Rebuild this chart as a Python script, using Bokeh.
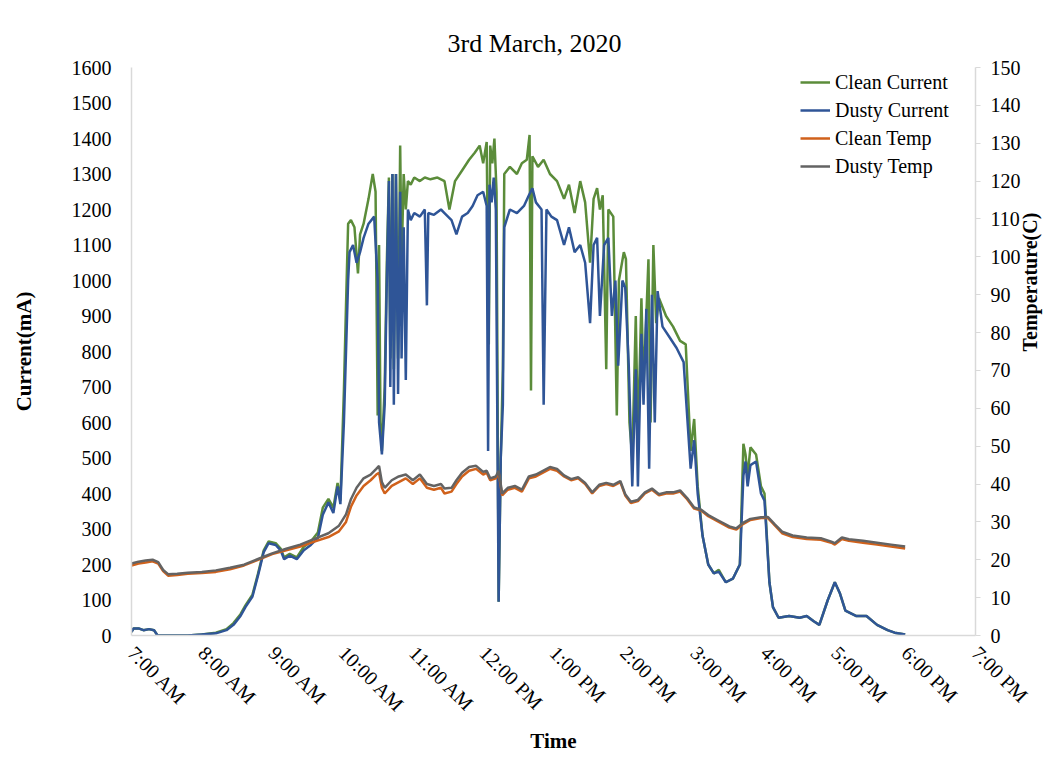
import math
from bokeh.plotting import figure
from bokeh.models import Range1d, LinearAxis, FixedTicker, Legend, LegendItem, Title
from bokeh.embed import file_html
from bokeh.resources import INLINE

# ---------------- data ----------------
title_text = "3rd March, 2020"
x_ticks = [7, 8, 9, 10, 11, 12, 13, 14, 15, 16, 17, 18, 19]
x_tick_labels = ["7:00 AM", "8:00 AM", "9:00 AM", "10:00 AM", "11:00 AM", "12:00 PM",
                 "1:00 PM", "2:00 PM", "3:00 PM", "4:00 PM", "5:00 PM", "6:00 PM", "7:00 PM"]
series_names = ["Clean Current", "Dusty Current", "Clean Temp", "Dusty Temp"]

dusty_current_t = [7.00, 7.03, 7.10, 7.17, 7.25, 7.32, 7.37, 7.80, 8.00, 8.20, 8.35, 8.45, 8.55, 8.62,
                   8.72, 8.80, 8.88, 8.95, 9.05, 9.12, 9.17, 9.25, 9.35, 9.45, 9.55, 9.65, 9.72, 9.80,
                   9.87, 9.93, 9.97, 10.02, 10.05, 10.08, 10.10, 10.15, 10.20, 10.25, 10.30, 10.37,
                   10.45, 10.50, 10.52, 10.56, 10.60, 10.63, 10.66, 10.68, 10.71, 10.73, 10.76, 10.79,
                   10.82, 10.84, 10.87, 10.90, 10.93, 10.97, 11.02, 11.10, 11.17, 11.20, 11.22, 11.30,
                   11.40, 11.45, 11.55, 11.62, 11.70, 11.78, 11.85, 11.92, 12.00, 12.05, 12.07, 12.09,
                   12.12, 12.15, 12.18, 12.22, 12.25, 12.28, 12.30, 12.38, 12.48, 12.58, 12.65, 12.70,
                   12.75, 12.83, 12.86, 12.90, 12.97, 13.05, 13.15, 13.22, 13.30, 13.38, 13.45, 13.52,
                   13.57, 13.62, 13.66, 13.72, 13.78, 13.83, 13.88, 13.92, 13.98, 14.02, 14.07, 14.12,
                   14.17, 14.20, 14.25, 14.28, 14.32, 14.36, 14.40, 14.44, 14.48, 14.55, 14.65, 14.75,
                   14.85, 14.95, 15.00, 15.05, 15.12, 15.20, 15.28, 15.35, 15.45, 15.55, 15.65, 15.70,
                   15.73, 15.76, 15.80, 15.88, 15.95, 16.00, 16.07, 16.12, 16.20, 16.35, 16.50, 16.60,
                   16.70, 16.78, 16.90, 17.00, 17.07, 17.15, 17.30, 17.45, 17.60, 17.75, 17.85, 18.00]
dusty_current = [10, 20, 20, 15, 18, 15, 0, 0, 3, 6, 15, 30, 55, 80,
                 110, 170, 235, 260, 255, 240, 215, 225, 215, 240, 255, 275, 340, 375,
                 345, 420, 370, 600, 800, 1000, 1080, 1100, 1050, 1080, 1120, 1160,
                 1180, 1000, 600, 510, 650, 1000, 1280, 700, 1300, 650, 1300, 680,
                 1250, 780, 1150, 720, 1200, 1170, 1190, 1180, 1200, 930, 1190, 1185,
                 1200, 1190, 1170, 1130, 1180, 1190, 1210, 1240, 1250, 1210, 520, 1270,
                 1220, 1290, 1200, 95, 500, 650, 1150, 1200, 1190, 1210, 1240, 1260,
                 1220, 1200, 650, 1200, 1180, 1170, 1100, 1150, 1080, 1100, 1050, 880,
                 1100, 1120, 900, 1100, 1120, 900, 1000, 760, 1000, 980, 760, 420,
                 750, 420, 850, 650, 920, 470, 960, 600, 970, 870, 840, 810,
                 770, 470, 550, 400, 280, 200, 175, 180, 150, 160, 200, 450,
                 490, 420, 480, 490, 400, 380, 150, 80, 50, 55, 50, 55,
                 40, 30, 100, 150, 120, 70, 55, 55, 30, 15, 8, 3]

clean_current_t = [7.00, 7.03, 7.10, 7.17, 7.25, 7.32, 7.37, 7.80, 8.00, 8.20, 8.35, 8.45, 8.55, 8.62,
                   8.72, 8.80, 8.88, 8.95, 9.05, 9.12, 9.17, 9.25, 9.35, 9.45, 9.55, 9.65, 9.72, 9.80,
                   9.87, 9.93, 9.97, 10.02, 10.05, 10.08, 10.12, 10.17, 10.22, 10.25, 10.30, 10.37,
                   10.43, 10.47, 10.50, 10.52, 10.54, 10.56, 10.60, 10.63, 10.66, 10.68, 10.71, 10.73,
                   10.76, 10.79, 10.82, 10.84, 10.87, 10.90, 10.93, 10.97, 11.02, 11.10, 11.17, 11.25,
                   11.35, 11.45, 11.52, 11.60, 11.70, 11.80, 11.88, 11.95, 12.00, 12.05, 12.08, 12.10,
                   12.13, 12.16, 12.19, 12.22, 12.25, 12.28, 12.30, 12.38, 12.48, 12.55, 12.62, 12.66,
                   12.68, 12.70, 12.78, 12.86, 12.95, 13.05, 13.15, 13.22, 13.30, 13.38, 13.45, 13.52,
                   13.57, 13.62, 13.66, 13.70, 13.75, 13.78, 13.85, 13.90, 13.93, 14.00, 14.03, 14.08,
                   14.12, 14.17, 14.20, 14.25, 14.28, 14.32, 14.35, 14.38, 14.42, 14.46, 14.50, 14.60,
                   14.70, 14.80, 14.88, 14.95, 15.00, 15.05, 15.12, 15.20, 15.28, 15.35, 15.45, 15.55,
                   15.65, 15.70, 15.73, 15.76, 15.80, 15.88, 15.95, 16.00, 16.07, 16.12, 16.20, 16.35,
                   16.50, 16.60, 16.70, 16.78, 16.90, 17.00, 17.07, 17.15, 17.30, 17.45, 17.60, 17.75,
                   17.85, 18.00]
clean_current = [10, 20, 20, 15, 18, 15, 0, 0, 3, 8, 18, 35, 60, 85,
                 115, 175, 240, 265, 260, 245, 220, 230, 220, 250, 265, 290, 360, 385,
                 360, 430, 380, 690, 930, 1160, 1170, 1150, 1020, 1130, 1160, 1230,
                 1300, 1250, 620, 1100, 600, 520, 700, 1050, 1290, 780, 1300, 750,
                 1300, 780, 1380, 1050, 1300, 1200, 1280, 1270, 1290, 1280, 1290, 1285,
                 1290, 1280, 1200, 1280, 1310, 1340, 1360, 1380, 1330, 1390, 820, 1380,
                 1330, 1400, 1250, 95, 500, 750, 1300, 1320, 1300, 1330, 1340, 1410,
                 690, 1350, 1320, 1340, 1300, 1280, 1230, 1270, 1190, 1280, 1220, 1050,
                 1230, 1260, 1200, 1240, 750, 1200, 1180, 620, 1000, 1080, 1060, 600,
                 500, 900, 550, 950, 700, 900, 1060, 600, 1100, 880, 950, 900,
                 870, 830, 820, 520, 610, 420, 280, 200, 175, 185, 150, 160,
                 200, 540, 510, 450, 530, 510, 420, 400, 150, 80, 50, 55,
                 50, 55, 40, 30, 100, 150, 120, 70, 55, 55, 30, 15,
                 8, 3]

temp_t = [7.00, 7.10, 7.20, 7.30, 7.38, 7.45, 7.52, 7.65, 7.80, 8.00, 8.20, 8.40, 8.60, 8.80,
          9.00, 9.20, 9.40, 9.60, 9.80, 9.95, 10.05, 10.12, 10.20, 10.30, 10.40, 10.48, 10.52,
          10.56, 10.60, 10.70, 10.80, 10.90, 11.00, 11.10, 11.20, 11.30, 11.40, 11.45, 11.55,
          11.62, 11.70, 11.80, 11.90, 12.00, 12.05, 12.10, 12.18, 12.22, 12.27, 12.35, 12.45,
          12.55, 12.65, 12.75, 12.85, 12.95, 13.05, 13.15, 13.25, 13.35, 13.45, 13.55, 13.65,
          13.75, 13.85, 13.95, 14.02, 14.10, 14.20, 14.30, 14.40, 14.50, 14.60, 14.70, 14.80,
          14.90, 15.00, 15.10, 15.20, 15.35, 15.50, 15.60, 15.70, 15.80, 15.95, 16.05, 16.15,
          16.25, 16.40, 16.60, 16.80, 16.95, 17.00, 17.10, 17.20, 17.40, 17.60, 17.80, 18.00]
clean_temp = [18.5, 19.0, 19.3, 19.6, 19.0, 17.0, 15.8, 16.0, 16.3, 16.5, 16.8, 17.5, 18.5, 20.0,
              21.5, 22.5, 23.5, 24.8, 26.0, 27.5, 30.0, 34.0, 37.0, 39.5, 41.0, 42.5, 43.0,
              39.0, 37.5, 39.5, 40.5, 41.5, 40.0, 41.5, 39.0, 38.5, 39.0, 37.5, 38.0,
              40.0, 42.0, 43.5, 44.0, 42.5, 43.0, 41.0, 41.5, 43.0, 37.0, 38.5, 39.0,
              38.0, 41.5, 42.0, 43.0, 44.0, 43.5, 42.0, 41.0, 41.5, 40.0, 37.5, 39.5,
              40.0, 39.5, 40.5, 37.0, 35.0, 35.5, 37.5, 38.5, 37.0, 37.5, 37.5, 38.0,
              36.0, 33.5, 33.0, 31.5, 30.0, 28.5, 28.0, 29.5, 30.5, 31.0, 31.0, 29.0,
              27.0, 26.0, 25.5, 25.3, 24.5, 24.0, 25.5, 25.0, 24.5, 24.0, 23.5, 23.0]
dusty_temp = [19.0, 19.5, 19.8, 20.0, 19.4, 17.3, 16.2, 16.3, 16.6, 16.8, 17.2, 17.9, 18.7, 20.2,
              21.7, 22.9, 24.0, 25.5, 27.0, 29.0, 32.0, 36.0, 39.0, 41.5, 42.5, 44.0, 44.8,
              40.5, 39.0, 41.0, 42.0, 42.5, 41.0, 42.5, 40.0, 39.5, 40.0, 38.8, 39.0,
              41.0, 43.0, 44.5, 44.8, 43.2, 43.5, 41.5, 42.0, 43.5, 37.5, 39.0, 39.5,
              38.5, 42.0, 42.5, 43.5, 44.5, 44.0, 42.3, 41.3, 41.8, 40.3, 37.8, 39.8,
              40.3, 39.8, 40.8, 37.3, 35.3, 35.8, 37.8, 38.8, 37.3, 37.8, 37.8, 38.3,
              36.3, 33.8, 33.2, 31.8, 30.3, 28.8, 28.3, 29.8, 30.8, 31.2, 31.3, 29.3,
              27.4, 26.4, 25.9, 25.7, 24.8, 24.4, 25.9, 25.4, 25.0, 24.5, 24.0, 23.5]

# ---------------- styling ----------------
FONT = "Liberation Serif"
AXIS_GRAY = "#d9d9d9"
C_GREEN = "#5b8c3a"
C_BLUE = "#2f5597"
C_ORANGE = "#d0611b"
C_GRAY = "#636363"

p = figure(width=1056, height=767, output_backend="svg", toolbar_location=None,
           x_range=Range1d(7, 19), y_range=Range1d(0, 1600),
           min_border_left=131, min_border_right=81, min_border_top=67, min_border_bottom=132)
p.extra_y_ranges = {"temp": Range1d(0, 150)}
p.outline_line_color = None
p.xgrid.visible = False
p.ygrid.visible = False
p.background_fill_color = "white"
p.border_fill_color = "white"

p.title = Title(text=title_text, align="left", offset=316, text_font=FONT,
                text_font_size="26px", text_font_style="normal", text_color="#000000", standoff=20)

r1 = p.line(clean_current_t, clean_current, line_color=C_GREEN, line_width=2.5)
r2 = p.line(dusty_current_t, dusty_current, line_color=C_BLUE, line_width=2.5)
r3 = p.line(temp_t, clean_temp, line_color=C_ORANGE, line_width=2.5, y_range_name="temp")
r4 = p.line(temp_t, dusty_temp, line_color=C_GRAY, line_width=2.5, y_range_name="temp")

# x axis
xa = p.xaxis[0]
xa.ticker = FixedTicker(ticks=x_ticks)
xa.major_label_overrides = {t: l for t, l in zip(x_ticks, x_tick_labels)}
xa.major_label_orientation = -math.pi / 4
xa.axis_label = "Time"

# left axis
ya = p.yaxis[0]
ya.ticker = FixedTicker(ticks=list(range(0, 1601, 100)))
ya.axis_label = "Current(mA)"

# right axis
ra = LinearAxis(y_range_name="temp", ticker=FixedTicker(ticks=list(range(0, 151, 10))),
                axis_label="Temperature(C)")
ra.axis_label_orientation = math.pi / 2
p.add_layout(ra, "right")

for ax in (xa, ya, ra):
    ax.axis_line_color = AXIS_GRAY
    ax.axis_line_width = 1.5
    ax.minor_tick_line_color = None
    ax.major_label_text_font = FONT
    ax.major_label_text_font_size = "20px"
    ax.major_label_text_color = "#000000"
    ax.axis_label_text_font = FONT
    ax.axis_label_text_font_size = "21px"
    ax.axis_label_text_font_style = "bold"
    ax.axis_label_text_color = "#000000"

ra.axis_label_text_font_size = "20px"

xa.major_tick_line_color = None
ya.major_tick_line_color = None
ra.major_tick_line_color = AXIS_GRAY
ra.major_tick_out = 5
ra.major_tick_in = 0

xa.major_label_standoff = 8
xa.axis_label_standoff = 2
ya.major_label_standoff = 14
ya.axis_label_standoff = 33
ra.major_label_standoff = 10
ra.axis_label_standoff = 6

legend = Legend(items=[LegendItem(label=series_names[0], renderers=[r1]),
                       LegendItem(label=series_names[1], renderers=[r2]),
                       LegendItem(label=series_names[2], renderers=[r3]),
                       LegendItem(label=series_names[3], renderers=[r4])],
                location=(669, 455), padding=0, margin=0, spacing=0,
                glyph_width=30, glyph_height=28, label_height=28, label_standoff=5,
                label_text_font=FONT, label_text_font_size="20px", label_text_color="#000000",
                border_line_color=None, background_fill_alpha=0)
p.add_layout(legend)

open("out.html", "w").write(file_html(p, INLINE))
